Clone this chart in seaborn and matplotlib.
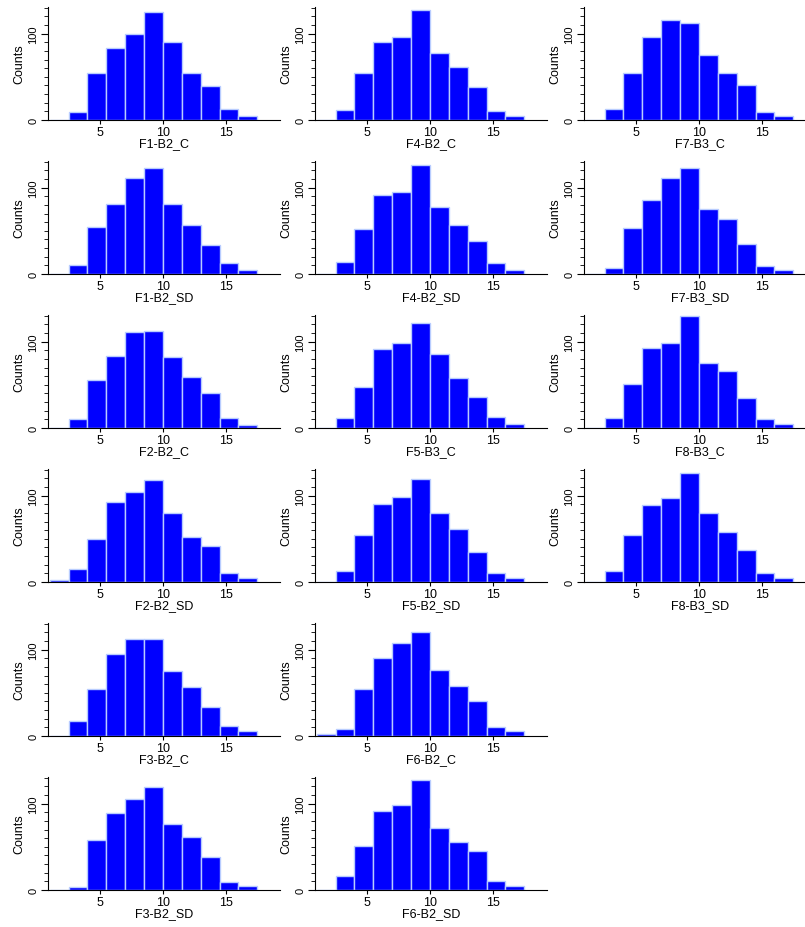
import numpy as np
import pandas as pd
import matplotlib
matplotlib.use("Agg")
import matplotlib.pyplot as plt
import seaborn as sns
from matplotlib.ticker import MultipleLocator

# Histogram counts (bins of width 1.5 starting at 1.0)
bin_edges = [1.0, 2.5, 4.0, 5.5, 7.0, 8.5, 10.0, 11.5, 13.0, 14.5, 16.0, 17.5]

col1_names = ['F1-B2_C', 'F1-B2_SD', 'F2-B2_C', 'F2-B2_SD', 'F3-B2_C', 'F3-B2_SD']
col2_names = ['F4-B2_C', 'F4-B2_SD', 'F5-B3_C', 'F5-B2_SD', 'F6-B2_C', 'F6-B2_SD']
col3_names = ['F7-B3_C', 'F7-B3_SD', 'F8-B3_C', 'F8-B3_SD']

F1_B2_C = [0, 9, 54, 83, 100, 125, 91, 55, 39, 13, 5]
F1_B2_SD = [0, 10, 55, 81, 111, 123, 81, 57, 34, 13, 5]
F2_B2_C = [0, 10, 56, 84, 111, 113, 82, 59, 40, 12, 4]
F2_B2_SD = [2, 15, 50, 93, 104, 118, 80, 52, 42, 10, 5]
F3_B2_C = [0, 17, 54, 95, 113, 112, 75, 57, 34, 12, 6]
F3_B2_SD = [0, 4, 58, 89, 105, 119, 76, 61, 38, 9, 5]
F4_B2_C = [0, 12, 55, 90, 96, 128, 78, 62, 38, 10, 5]
F4_B2_SD = [0, 14, 52, 92, 95, 126, 78, 57, 38, 13, 5]
F5_B3_C = [0, 12, 48, 92, 98, 122, 86, 58, 36, 13, 5]
F5_B2_SD = [0, 13, 55, 91, 98, 119, 80, 62, 35, 11, 5]
F6_B2_C = [2, 8, 54, 90, 108, 120, 77, 58, 40, 11, 6]
F6_B2_SD = [0, 16, 51, 92, 98, 127, 72, 56, 45, 11, 5]
F7_B3_C = [0, 13, 54, 96, 116, 112, 75, 54, 41, 9, 5]
F7_B3_SD = [0, 7, 53, 86, 111, 123, 75, 64, 35, 9, 5]
F8_B3_C = [0, 12, 51, 93, 99, 130, 75, 66, 35, 10, 5]
F8_B3_SD = [0, 13, 54, 89, 97, 126, 80, 58, 37, 11, 5]

columns = [
    (col1_names, [F1_B2_C, F1_B2_SD, F2_B2_C, F2_B2_SD, F3_B2_C, F3_B2_SD]),
    (col2_names, [F4_B2_C, F4_B2_SD, F5_B3_C, F5_B2_SD, F6_B2_C, F6_B2_SD]),
    (col3_names, [F7_B3_C, F7_B3_SD, F8_B3_C, F8_B3_SD]),
]

sns.set_style("ticks")
plt.rcParams['font.family'] = ['Liberation Sans', 'DejaVu Sans']
plt.rcParams.update({'text.color': 'black', 'axes.labelcolor': 'black',
                     'xtick.color': 'black', 'ytick.color': 'black',
                     'axes.edgecolor': 'black'})

W, H = 805, 928
fig = plt.figure(figsize=(W / 100, H / 100), dpi=100)

centers = [(a + b) / 2 for a, b in zip(bin_edges[:-1], bin_edges[1:])]
col_left = [48, 315, 584]
ax_w, ax_h = 232, 113

for c, (names, series) in enumerate(columns):
    for r, (name, counts) in enumerate(zip(names, series)):
        bottom_px = 121 + 154 * r
        ax = fig.add_axes([col_left[c] / W, (H - bottom_px) / H, ax_w / W, ax_h / H])
        df = pd.DataFrame({'value': centers, 'count': counts})
        sns.histplot(data=df, x='value', weights='count', bins=bin_edges, ax=ax,
                     color='#0000ff', edgecolor='#b8ccff', linewidth=1.0, alpha=1.0)
        ax.set_xlim(0.87, 19.3)
        ax.set_ylim(0, 131)
        ax.set_xticks([5, 10, 15])
        ax.set_yticks([0, 100])
        ax.yaxis.set_minor_locator(MultipleLocator(10))
        ax.tick_params(axis='y', which='major', length=5, labelsize=8, pad=2)
        ax.tick_params(axis='y', which='minor', length=3)
        ax.tick_params(axis='x', which='major', length=3, labelsize=9, pad=1)
        for lbl in ax.get_yticklabels():
            lbl.set_rotation(90)
            lbl.set_va('center')
        ax.set_xlabel(name, fontsize=9, labelpad=0)
        ax.set_ylabel('Counts', fontsize=9, labelpad=2)
        sns.despine(ax=ax)

fig.savefig('out.png', dpi=100)
